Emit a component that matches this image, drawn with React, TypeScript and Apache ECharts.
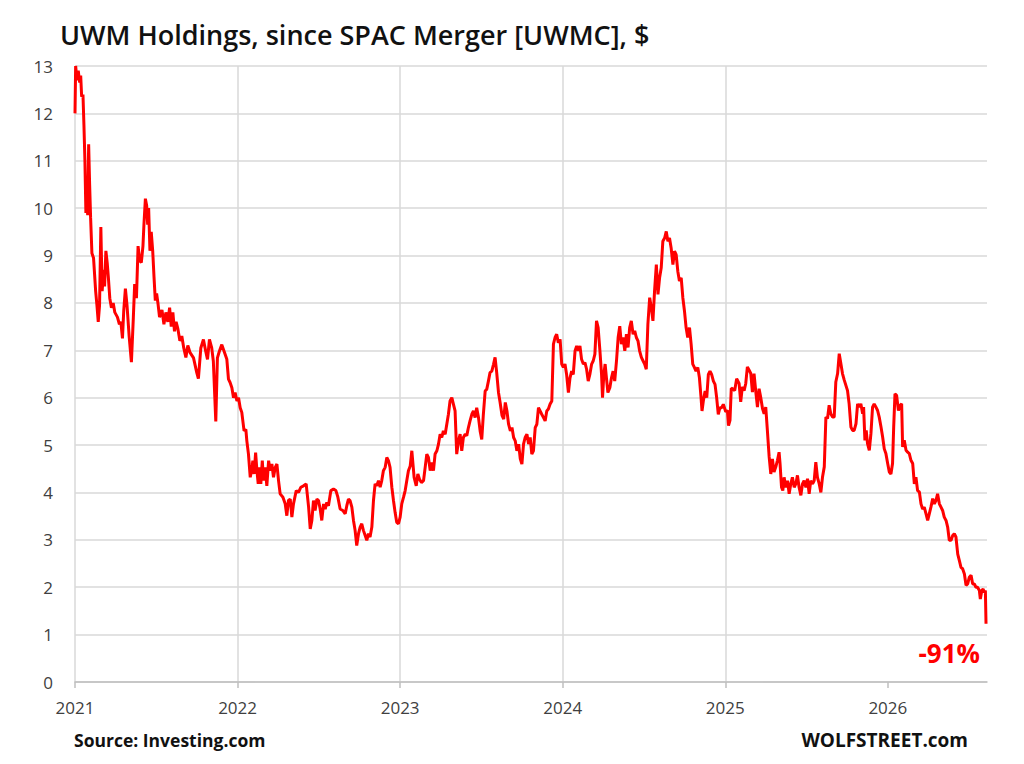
import React, { useEffect, useRef } from "react";
import * as echarts from "echarts";

// [fraction of year, price $]
const y2021: number[][] = [
  [0, 12.0], [0.004, 13.0], [0.012, 12.7], [0.02, 12.9], [0.029, 12.65], [0.035, 12.8], [0.041, 12.35], [0.049, 12.4],
  [0.055, 11.75], [0.061, 11.0], [0.067, 9.9], [0.073, 10.2], [0.078, 9.85], [0.084, 11.35], [0.09, 10.5], [0.096, 9.8],
  [0.104, 9.05], [0.114, 8.95], [0.127, 8.25], [0.135, 7.95], [0.143, 7.6], [0.151, 7.95], [0.159, 9.6], [0.167, 8.25],
  [0.176, 8.7], [0.182, 8.35], [0.19, 9.1], [0.198, 8.85], [0.206, 8.5], [0.214, 8.1], [0.224, 7.9], [0.235, 8.0],
  [0.245, 7.8], [0.261, 7.7], [0.273, 7.55], [0.282, 7.6], [0.292, 7.25], [0.3, 7.85], [0.31, 8.3], [0.32, 7.95],
  [0.333, 7.3], [0.347, 6.75], [0.359, 7.7], [0.367, 8.4], [0.378, 8.1], [0.388, 9.2], [0.398, 8.9], [0.408, 8.85],
  [0.418, 9.2], [0.424, 9.65], [0.433, 10.2], [0.441, 10.05], [0.447, 9.65], [0.453, 10.0], [0.461, 9.1], [0.469, 9.5],
  [0.478, 9.1], [0.486, 8.55], [0.494, 8.05], [0.502, 8.2], [0.51, 8.0], [0.52, 7.7], [0.535, 7.85], [0.547, 7.55],
  [0.559, 7.8], [0.571, 7.6], [0.582, 7.9], [0.592, 7.5], [0.602, 7.8], [0.612, 7.4], [0.622, 7.6], [0.633, 7.45],
  [0.645, 7.2], [0.657, 7.3], [0.669, 7.05], [0.682, 6.85], [0.694, 7.1], [0.708, 6.95], [0.729, 6.84], [0.749, 6.53],
  [0.759, 6.4], [0.774, 7.05], [0.79, 7.23], [0.804, 6.98], [0.815, 6.81], [0.827, 7.23], [0.841, 7.05], [0.851, 6.77],
  [0.866, 5.5], [0.876, 6.84], [0.888, 6.98], [0.903, 7.12], [0.917, 6.98], [0.934, 6.81], [0.944, 6.39], [0.954, 6.32],
  [0.965, 6.21], [0.975, 6.0], [0.985, 6.11], [0.996, 5.93],
];

const y2022: number[][] = [
  [0.006, 6.0], [0.016, 5.79], [0.026, 5.69], [0.04, 5.3], [0.051, 5.33], [0.057, 5.09], [0.067, 4.81], [0.078, 4.32],
  [0.086, 4.46], [0.094, 4.67], [0.102, 4.39], [0.111, 4.84], [0.119, 4.46], [0.127, 4.18], [0.135, 4.53], [0.143, 4.18],
  [0.152, 4.67], [0.16, 4.25], [0.17, 4.53], [0.18, 4.14], [0.191, 4.67], [0.201, 4.46], [0.211, 4.6], [0.221, 4.32],
  [0.232, 4.53], [0.242, 4.6], [0.252, 4.25], [0.262, 3.97], [0.279, 3.9], [0.293, 3.76], [0.303, 3.51], [0.313, 3.83],
  [0.324, 3.86], [0.334, 3.48], [0.344, 3.76], [0.361, 4.04], [0.375, 4.0], [0.389, 4.11], [0.406, 4.14], [0.422, 4.18],
  [0.437, 3.69], [0.447, 3.23], [0.457, 3.41], [0.467, 3.83], [0.477, 3.62], [0.488, 3.86], [0.498, 3.83], [0.508, 3.65],
  [0.518, 3.41], [0.529, 3.76], [0.539, 3.65], [0.549, 3.79], [0.559, 3.72], [0.574, 4.04], [0.59, 4.07], [0.605, 4.04],
  [0.617, 3.9], [0.631, 3.65], [0.647, 3.62], [0.662, 3.55], [0.672, 3.72], [0.682, 3.86], [0.692, 3.83], [0.703, 3.69],
  [0.713, 3.41], [0.723, 3.2], [0.733, 2.88], [0.744, 3.13], [0.754, 3.27], [0.764, 3.34], [0.774, 3.2], [0.785, 3.09],
  [0.795, 2.99], [0.805, 3.13], [0.815, 3.06], [0.826, 3.27], [0.836, 3.83], [0.846, 4.18], [0.856, 4.14], [0.867, 4.25],
  [0.877, 4.11], [0.887, 4.25], [0.897, 4.46], [0.908, 4.53], [0.918, 4.74], [0.928, 4.67], [0.938, 4.53], [0.949, 4.11],
  [0.959, 3.83], [0.969, 3.58], [0.979, 3.37], [0.99, 3.34],
];

const y2023: number[][] = [
  [0.0, 3.48], [0.01, 3.76], [0.021, 3.9], [0.031, 4.04], [0.041, 4.25], [0.051, 4.46], [0.062, 4.56], [0.072, 4.88],
  [0.086, 4.32], [0.099, 4.14], [0.109, 4.39], [0.119, 4.28], [0.131, 4.21], [0.144, 4.25], [0.154, 4.53], [0.164, 4.81],
  [0.174, 4.74], [0.185, 4.46], [0.195, 4.63], [0.205, 4.46], [0.215, 4.81], [0.226, 4.88], [0.236, 5.02], [0.246, 5.23],
  [0.256, 5.16], [0.266, 5.3], [0.277, 5.23], [0.287, 5.44], [0.297, 5.65], [0.307, 5.93], [0.318, 6.0], [0.328, 5.86],
  [0.338, 5.72], [0.348, 4.81], [0.359, 5.09], [0.369, 5.23], [0.379, 4.88], [0.389, 5.16], [0.4, 5.23], [0.41, 5.2],
  [0.42, 5.37], [0.43, 5.51], [0.441, 5.65], [0.451, 5.72], [0.461, 5.58], [0.471, 5.79], [0.482, 5.58], [0.492, 5.3],
  [0.502, 5.12], [0.512, 5.65], [0.523, 6.14], [0.533, 6.18], [0.543, 6.35], [0.553, 6.53], [0.564, 6.56], [0.574, 6.7],
  [0.584, 6.85], [0.594, 6.53], [0.605, 6.11], [0.615, 5.9], [0.627, 5.62], [0.637, 5.55], [0.647, 5.9], [0.657, 5.72],
  [0.667, 5.44], [0.678, 5.3], [0.688, 5.37], [0.698, 5.16], [0.708, 5.09], [0.718, 4.88], [0.729, 5.02], [0.739, 4.71],
  [0.749, 4.6], [0.759, 5.02], [0.769, 5.16], [0.78, 5.23], [0.79, 5.02], [0.8, 5.16], [0.81, 4.81], [0.82, 4.88],
  [0.831, 5.37], [0.841, 5.44], [0.851, 5.79], [0.861, 5.72], [0.871, 5.65], [0.882, 5.58], [0.892, 5.51], [0.902, 5.72],
  [0.912, 5.76], [0.922, 5.86], [0.933, 5.93], [0.943, 7.13], [0.953, 7.27], [0.963, 7.34], [0.973, 7.16], [0.984, 7.23],
  [0.994, 6.71],
];

const y2024: number[][] = [
  [0.004, 6.64], [0.014, 6.71], [0.024, 6.49], [0.035, 6.11], [0.045, 6.42], [0.055, 6.56], [0.065, 6.49], [0.076, 6.99],
  [0.086, 7.09], [0.096, 6.99], [0.106, 7.09], [0.116, 6.81], [0.127, 6.71], [0.137, 6.74], [0.147, 6.6], [0.157, 6.35],
  [0.167, 6.49], [0.178, 6.71], [0.188, 6.78], [0.198, 6.92], [0.208, 7.62], [0.218, 7.48], [0.229, 6.99], [0.239, 6.49],
  [0.245, 6.0], [0.253, 6.49], [0.261, 6.71], [0.269, 6.42], [0.278, 6.11], [0.29, 6.21], [0.3, 6.42], [0.31, 6.56],
  [0.32, 6.35], [0.331, 6.78], [0.341, 7.27], [0.351, 7.51], [0.361, 7.13], [0.371, 7.27], [0.382, 6.99], [0.392, 7.34],
  [0.402, 7.06], [0.412, 7.48], [0.422, 7.62], [0.433, 7.34], [0.443, 7.41], [0.453, 7.27], [0.463, 7.2], [0.473, 6.99],
  [0.484, 6.85], [0.494, 6.78], [0.504, 6.71], [0.514, 6.6], [0.524, 7.55], [0.535, 8.11], [0.545, 7.9], [0.555, 7.62],
  [0.565, 8.25], [0.576, 8.81], [0.586, 8.18], [0.596, 8.53], [0.606, 8.74], [0.616, 9.3], [0.627, 9.37], [0.637, 9.51],
  [0.647, 9.3], [0.657, 9.37], [0.667, 9.16], [0.678, 8.81], [0.688, 9.09], [0.698, 9.02], [0.708, 8.67], [0.718, 8.46],
  [0.729, 8.53], [0.739, 8.11], [0.749, 7.83], [0.759, 7.48], [0.769, 7.27], [0.78, 7.48], [0.79, 7.13], [0.8, 6.71],
  [0.81, 6.64], [0.82, 6.56], [0.831, 6.64], [0.841, 6.42], [0.851, 6.0], [0.857, 5.72], [0.865, 5.93], [0.876, 6.14],
  [0.886, 6.0], [0.896, 6.49], [0.906, 6.56], [0.916, 6.49], [0.927, 6.35], [0.937, 6.28], [0.947, 6.0], [0.957, 5.65],
  [0.967, 5.79], [0.978, 5.79], [0.988, 5.86],
];

const y2025: number[][] = [
  [0.003, 5.7], [0.013, 5.73], [0.02, 5.41], [0.029, 5.52], [0.037, 6.2], [0.044, 6.19], [0.058, 6.15], [0.07, 6.4],
  [0.085, 6.3], [0.095, 5.91], [0.105, 6.23], [0.116, 6.15], [0.126, 6.3], [0.136, 6.65], [0.147, 6.58], [0.157, 6.51],
  [0.167, 6.12], [0.177, 6.51], [0.188, 6.12], [0.198, 5.8], [0.208, 6.19], [0.218, 6.01], [0.229, 5.77], [0.239, 5.66],
  [0.249, 5.8], [0.259, 5.31], [0.27, 4.75], [0.28, 4.39], [0.29, 4.71], [0.3, 4.43], [0.311, 4.54], [0.321, 4.68],
  [0.331, 4.85], [0.337, 4.61], [0.346, 4.11], [0.354, 4.04], [0.362, 4.32], [0.372, 4.11], [0.383, 4.25], [0.393, 3.97],
  [0.403, 4.18], [0.413, 4.32], [0.424, 4.11], [0.434, 4.18], [0.444, 4.36], [0.454, 4.11], [0.465, 3.94], [0.475, 4.18],
  [0.485, 4.25], [0.496, 4.11], [0.506, 4.29], [0.516, 3.97], [0.526, 4.25], [0.537, 4.18], [0.547, 4.25], [0.557, 4.64],
  [0.567, 4.32], [0.578, 4.18], [0.588, 4.0], [0.598, 4.32], [0.609, 4.54], [0.619, 5.59], [0.629, 5.56], [0.639, 5.84],
  [0.649, 5.66], [0.66, 5.59], [0.67, 5.59], [0.68, 6.33], [0.691, 6.51], [0.701, 6.93], [0.711, 6.72], [0.721, 6.51],
  [0.732, 6.37], [0.742, 6.26], [0.752, 6.15], [0.762, 5.87], [0.773, 5.38], [0.783, 5.31], [0.793, 5.31], [0.804, 5.45],
  [0.814, 5.87], [0.824, 5.8], [0.834, 5.87], [0.845, 5.66], [0.851, 5.8], [0.859, 5.1], [0.867, 5.31], [0.875, 5.03],
  [0.886, 4.89], [0.896, 5.24], [0.906, 5.8], [0.916, 5.87], [0.927, 5.8], [0.937, 5.73], [0.947, 5.59], [0.958, 5.38],
  [0.968, 5.17], [0.978, 4.92], [0.988, 4.82], [0.999, 4.61],
];

const y2026: number[][] = [
  [0.009, 4.43], [0.019, 4.39], [0.029, 4.61], [0.036, 5.38], [0.044, 6.08], [0.054, 6.05], [0.065, 5.73], [0.075, 5.84],
  [0.085, 5.87], [0.091, 4.96], [0.101, 5.1], [0.112, 4.89], [0.122, 4.85], [0.132, 4.82], [0.142, 4.68], [0.153, 4.61],
  [0.163, 4.18], [0.173, 4.32], [0.183, 4.04], [0.194, 4.01], [0.204, 3.76], [0.214, 3.65], [0.224, 3.69], [0.235, 3.55],
  [0.245, 3.41], [0.255, 3.55], [0.265, 3.69], [0.276, 3.87], [0.286, 3.76], [0.296, 3.83], [0.306, 3.97], [0.317, 3.76],
  [0.327, 3.69], [0.337, 3.62], [0.347, 3.48], [0.358, 3.41], [0.368, 3.27], [0.378, 2.99], [0.389, 2.99], [0.399, 3.09],
  [0.409, 3.13], [0.419, 3.06], [0.43, 2.7], [0.44, 2.56], [0.45, 2.42], [0.46, 2.39], [0.471, 2.28], [0.481, 2.04],
  [0.491, 2.07], [0.501, 2.21], [0.512, 2.25], [0.522, 2.07], [0.532, 2.07], [0.542, 2.0], [0.552, 2.0], [0.563, 1.93],
  [0.569, 1.75], [0.578, 1.93], [0.586, 1.96], [0.594, 1.89], [0.6, 1.93], [0.604, 1.23],
];

const years = [2021, 2022, 2023, 2024, 2025, 2026];
const yearData = [y2021, y2022, y2023, y2024, y2025, y2026];
const xMax = 2026.61;

const titleText = "UWM Holdings, since SPAC Merger [UWMC], $";
const sourceText = "Source: Investing.com";
const brandText = "WOLFSTREET.com";
const changeText = "-91%";

const FONT = "'Open Sans', 'Liberation Sans', sans-serif";

export default function App() {
  const ref = useRef<HTMLDivElement>(null);

  useEffect(() => {
    if (!ref.current) return;
    const chart = echarts.init(ref.current, undefined, { renderer: "svg" });
    const seriesData: number[][] = [];
    years.forEach((y, i) => {
      yearData[i].forEach((p) => seriesData.push([y + p[0], p[1]]));
    });

    chart.setOption({
      animation: false,
      backgroundColor: "#ffffff",
      title: {
        text: titleText,
        left: 55,
        top: 16,
        textStyle: { fontFamily: FONT, fontSize: 27, fontWeight: 600, color: "#111111" },
      },
      grid: { left: 75, right: 37, top: 66, bottom: 82, containLabel: false },
      xAxis: {
        type: "value",
        min: 2021,
        max: xMax,
        interval: 1,
        axisLine: { show: true, lineStyle: { color: "#bfbfbf", width: 1.5 } },
        axisTick: { show: true, length: 6, lineStyle: { color: "#bfbfbf", width: 1.5 }, customValues: years },
        axisLabel: {
          customValues: years,
          formatter: (v: number) => String(Math.round(v)),
          fontFamily: FONT,
          fontSize: 17,
          color: "#404040",
          margin: 17,
        },
        splitLine: { show: true, showMaxLine: false, lineStyle: { color: "#d9d9d9", width: 1.5 } },
      },
      yAxis: {
        type: "value",
        min: 0,
        max: 13,
        interval: 1,
        axisLine: { show: false },
        axisTick: { show: false },
        axisLabel: { fontFamily: FONT, fontSize: 17, color: "#404040", margin: 22 },
        splitLine: { show: true, lineStyle: { color: "#d9d9d9", width: 1.5 } },
      },
      series: [
        {
          type: "line",
          data: seriesData,
          showSymbol: false,
          symbol: "none",
          lineStyle: { color: "#ff0000", width: 3 },
          z: 3,
        },
      ],
      graphic: [
        {
          type: "text",
          left: 74,
          top: 731,
          style: { text: sourceText, fontFamily: FONT, fontSize: 17.5, fontWeight: 700, fill: "#111111" },
        },
        {
          type: "text",
          right: 56,
          top: 730,
          style: { text: brandText, fontFamily: FONT, fontSize: 19, fontWeight: 700, fill: "#111111" },
        },
        {
          type: "text",
          right: 44,
          top: 640,
          style: { text: changeText, fontFamily: FONT, fontSize: 26, fontWeight: 700, fill: "#ff0000" },
        },
      ],
    });
    return () => chart.dispose();
  }, []);

  return (
    <div
      ref={ref}
      style={{ position: "fixed", left: 0, top: 0, width: 1024, height: 764, background: "#fff" }}
    />
  );
}
